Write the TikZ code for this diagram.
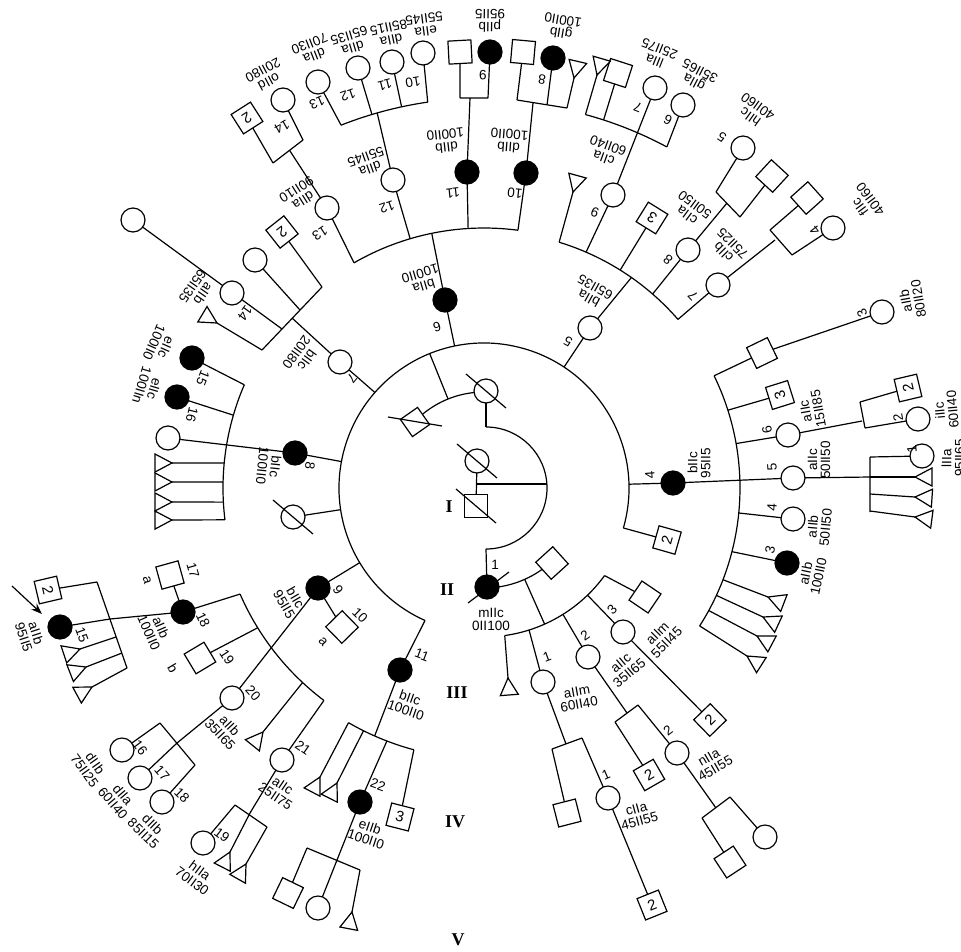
\documentclass[tikz,border=0pt]{standalone}
\usepackage{fontspec}
\setmainfont{Liberation Sans}
\newfontfamily\romfont{Liberation Serif}
\usetikzlibrary{calc,arrows.meta}
\pgfdeclarelayer{bg}
\pgfsetlayers{bg,main}
\tikzset{
  ln/.style={line width=1.2pt},
  pc/.style={circle,draw,fill=white,minimum size=24pt,inner sep=0pt,line width=1.2pt},
  pf/.style={pc,fill=black},
  ps/.style={rectangle,draw,fill=white,minimum size=23pt,inner sep=0pt,line width=1.2pt,font=\fontsize{15}{15}\selectfont},
  lab/.style={font=\fontsize{13.5}{13}\selectfont,inner sep=0pt,align=center},
  rom/.style={font=\romfont\bfseries\fontsize{18}{18}\selectfont},
}
\newcommand{\AP}[3]{\coordinate (#1) at ($(C)+(#2:#3pt)$);}
\newcommand{\Pc}[3]{\node[pc] (#1) at (#2,-#3) {};}
\newcommand{\Pf}[3]{\node[pf] (#1) at (#2,-#3) {};}
\newcommand{\Ps}[4]{\pgfmathsetmacro\rr{atan2(488-#3,#2-484)+90}\node[ps,rotate=\rr] (#1) at (#2,-#3) {#4};}
\newcommand{\Gl}[3]{\pgfmathsetmacro\rr{atan2(488-#2,#1-484)+90}\node[lab,rotate=\rr] at (#1,-#2) {#3};}
\newcommand{\Glr}[4]{\node[lab,rotate=#3] at (#1,-#2) {#4};}
\newcommand{\Tri}[2]{\draw[ln] #1 -- #2; \draw[ln,fill=white] let \p1=($#2-#1$), \n1={atan2(\y1,\x1)} in #2 -- ($#2+(\n1:17pt)+(\n1+90:9pt)$) -- ($#2+(\n1:17pt)+(\n1-90:9pt)$) -- cycle;}
\newcommand{\Sl}[1]{\draw[ln] ($(#1)+(-20,17)$) -- ($(#1)+(20,-17)$);}
\begin{document}
\begin{tikzpicture}[x=1pt,y=1pt]
\useasboundingbox (0,0) rectangle (961,-951);
\coordinate (C) at (484,-488);
% ---------- arc points ----------
\AP{m0}{-82}{149}\AP{m1}{-72.4}{149}\AP{m2}{-58}{149}\AP{m3}{-46}{149}\AP{m4}{-36}{149}
\AP{bR}{-16}{145}\AP{b4}{1.5}{145}\AP{b5}{56.5}{145}\AP{b6}{101.7}{145}\AP{b7}{138.8}{145}
\AP{b8}{169.5}{145}\AP{bX}{188.6}{145}\AP{b9}{211}{145}\AP{b11}{246}{145}
\AP{a4t}{26}{256}\AP{a4b}{17.7}{256}\AP{a4c}{10}{256}\AP{a4e}{-5.6}{256}\AP{a4f}{-14.4}{256}
\AP{a4g1}{-21}{256}\AP{a4g2}{-24.8}{256}\AP{a4g3}{-28.6}{256}\AP{a4g4}{-32.6}{256}
\AP{a5L}{73}{257}\AP{a5a}{66.6}{257}\AP{a5b}{58}{257}\AP{a5d}{55}{257}\AP{a5c}{49}{257}\AP{a5R}{41}{257}
\AP{a9L}{74.8}{387}\AP{a9a}{72}{387}\AP{a9R}{61.8}{387}
\AP{a6L}{120}{260}\AP{a6a}{106.5}{260}\AP{a6d}{101.6}{260}\AP{a6b}{93.5}{260}\AP{a6R}{82.5}{260}
\AP{a12L}{111.5}{390}\AP{a12a}{106.7}{390}\AP{a12d}{105.9}{390}\AP{a12b}{102.2}{390}\AP{a12R}{98.3}{390}
\AP{a8L}{156.7}{261}\AP{a8a}{163.8}{261}\AP{a8t1}{174.5}{261}\AP{a8t2}{178.7}{261}\AP{a8t3}{183.1}{261}\AP{a8t4}{187}{261}
\AP{a9bL}{203.5}{266}\AP{a9ba}{211.7}{266}\AP{a9bt}{227}{266}\AP{a9bR}{233}{266}
\AP{a11L}{240}{271}\AP{a11a}{243.6}{271}\AP{a11d}{246.2}{271}\AP{a11b}{249}{271}\AP{a11R}{255}{271}
% ---------- persons ----------
\Pc{gw}{477}{461}
\node[ps] (gh) at (476,-506) {};
\Pc{c2a}{486}{391}
\node[ps,minimum size=21pt,rotate=35] (d2) at (415,-422) {};
\Pf{f2}{487}{587}
\Ps{sq2}{552}{563}{}
% lower right branch
\Pc{m1c}{543}{682}\Pc{m2c}{588}{657}\Pc{m3c}{623}{632}\Ps{m4s}{645}{597}{}
\Ps{n1s}{567}{813}{}\Pc{n1c}{608}{798}\Ps{n1s2}{652}{905}{2}
\Ps{n2s}{649}{775}{2}\Pc{n2c}{677}{753}
\Ps{n3s}{730}{862}{}\Pc{n3c}{765}{837}
\Ps{m3s}{710}{720}{2}
% big arc children
\Ps{sR}{667}{540}{2}\Pf{f4}{673}{483}\Pc{c5}{590}{328}\Pf{f6}{445}{300}\Pc{c7}{340}{362}
\Pf{f8}{295}{453}\Pc{x8}{293}{517}\Pf{f9}{318}{588}\Pf{f11}{400}{670}
% bIIc-4 family
\Ps{sA}{762}{353}{}\Pc{cA}{882}{312}\Ps{s4b}{780}{395}{3}\Pc{c46}{788}{435}\Pc{c45}{793}{478}
\Pc{c44}{793}{519}\Pf{f43}{787}{563}
\Ps{s5a}{908}{388}{2}\Pc{c5b}{918}{419}\Pc{c5c}{922}{456}
% bIIa-5 family
\Pc{c9}{613}{195}\Ps{s53}{652}{218}{3}\Pc{c8}{688}{250}\Pc{c7b}{718}{285}
\Pc{g7}{655}{88}\Ps{g7s}{618}{73}{}\Pc{g6}{683}{105}
\Pc{h5}{743}{148}\Ps{h5s}{772}{176}{}
\Ps{s7a}{807}{198}{}\Pc{c7f}{833}{228}
% bIIa-6 family
\Pc{c13}{327}{208}\Pc{c12}{393}{180}\Pf{f11b}{467}{172}\Pf{f10}{526}{173}
\Pc{g13}{318}{82}\Pc{g12}{358}{68}\Pc{g11}{392}{62}\Pc{g10}{423}{53}
\Ps{g14s}{247}{118}{2}\Pc{g14}{283}{100}
\Ps{g9s}{460}{52}{}\Pf{g9}{490}{52}
\Ps{g8s}{523}{52}{}\Pf{g8}{553}{58}
% bIIc-7 family
\Ps{h2s}{282}{232}{2}\Pc{h2c}{255}{260}\Pc{h14}{232}{293}\Pc{h0}{133}{220}
% bIIc-8 family
\Pf{f15}{192}{358}\Pf{f16}{177}{397}\Pc{c8b}{168}{438}
% bIIc-9 family
\Ps{s10}{342}{627}{}\Pf{f18}{183}{612}\Ps{s19}{200}{658}{}\Pc{c20}{232}{698}\Pc{c21}{282}{760}\Ps{s17}{170}{575}{}
\Ps{k2s}{48}{590}{2}\Pf{k15}{60}{627}
\Pc{k16}{122}{750}\Pc{k17}{140}{778}\Pc{k18}{162}{802}
\Pc{k19}{203}{843}
% bIIc-11 family
\Pf{f22}{360}{802}\Ps{s3c}{400}{817}{3}
\Ps{j1}{288}{893}{}\Pc{j2}{318}{908}
% ---------- lines ----------
\begin{pgfonlayer}{bg}
\draw[ln] (gw.center) -- (gh.center);
\draw[ln] (477,-484) -- (547,-484);
\draw[ln] (486,-427) arc[start angle=90,end angle=-90,radius=61pt];
\draw[ln] (486,-427) -- (c2a.center);
\draw[ln] (486,-549) -- (f2.center);
\draw[ln] ($(C)+(95:96pt)$) arc[start angle=95,end angle=133,radius=96pt];
\draw[ln] ($(C)+(112:96pt)$) -- ($(C)+(112:145pt)$);
\draw[ln] ($(C)+(-86:100pt)$) arc[start angle=-86,end angle=-50,radius=100pt];
\draw[ln] ($(C)+(-66:100pt)$) -- ($(C)+(-66:149pt)$);
\draw[ln] (m0) arc[start angle=-82,end angle=-36,radius=149pt];
\draw[ln] (bR) arc[start angle=-16,end angle=246,radius=145pt];
% lower right
\draw[ln] (m1)--(m1c.center) (m2)--(m2c.center) (m3)--(m3c.center) (m4)--(m4s.center);
\draw[ln] (m1c.center)--(566,-744) (552,-749)--(582,-738) (552,-749)--(n1s.center) (582,-738)--(n1c.center) (n1c.center)--(n1s2.center);
\draw[ln] (m2c.center)--(627,-713) (615,-722)--(638,-705) (615,-722)--(n2s.center) (638,-705)--(n2c.center);
\draw[ln] (n2c.center)--(716,-808) (702,-818)--(730,-797) (702,-818)--(n3s.center) (730,-797)--(n3c.center);
\draw[ln] (m3c.center)--(m3s.center);
% big arc children
\draw[ln] (bR)--(sR.center) (b4)--(f4.center) (b5)--(c5.center) (b6)--(f6.center) (b7)--(c7.center)
  (b8)--(f8.center) (bX)--(x8.center) (b9)--(f9.center) (b11)--(f11.center);
% bIIc-4
\draw[ln] (a4t) arc[start angle=26,end angle=-32.6,radius=256pt];
\draw[ln] (a4t)--(sA.center) (sA.center)--(cA.center) (a4b)--(s4b.center) (a4c)--(c46.center)
  (f4.center)--(c45.center) (a4e)--(c44.center) (a4f)--(f43.center);
\draw[ln] (c46.center)--(862,-421) (860,-402)--(865,-428) (860,-402)--(s5a.center) (865,-428)--(c5b.center);
\draw[ln] (c45.center)--(870,-477) (870,-457)--(870,-512) (870,-457)--(c5c.center);
% bIIa-5
\draw[ln] (a5L) arc[start angle=73,end angle=41,radius=257pt];
\draw[ln] (a5a)--(c9.center) (a5b)--(s53.center) (c5.center)--(a5d) (a5c)--(c8.center) (a5R)--(c7b.center);
\draw[ln] (a9L) arc[start angle=74.8,end angle=61.8,radius=387pt];
\draw[ln] (c9.center)--(g7.center) (a9a)--(g7s.center) (a9R)--(g6.center);
\draw[ln] (c8.center)--(727,-203) (716,-192)--(740,-217) (716,-192)--(h5.center) (740,-217)--(h5s.center);
\draw[ln] (c7b.center)--(775,-240) (770,-230)--(792,-255) (770,-230)--(s7a.center) (792,-255)--(c7f.center);
% bIIa-6
\draw[ln] (a6L) arc[start angle=120,end angle=82.5,radius=260pt];
\draw[ln] (a6L)--(c13.center) (a6a)--(c12.center) (f6.center)--(a6d) (a6b)--(f11b.center) (a6R)--(f10.center);
\draw[ln] (a12L) arc[start angle=111.5,end angle=98.3,radius=390pt];
\draw[ln] (a12L)--(g13.center) (a12a)--(g12.center) (c12.center)--(a12d) (a12b)--(g11.center) (a12R)--(g10.center);
\draw[ln] (c13.center)--(290,-151) (273,-163)--(303,-140) (273,-163)--(g14s.center) (303,-140)--(g14.center);
\draw[ln] (f11b.center)--(470,-98) (460,-98)--(488,-98) (460,-98)--(g9s.center) (488,-98)--(g9.center);
\draw[ln] (f10.center)--(533,-103) (517,-100)--(567,-108) (517,-100)--(g8s.center) (547,-105)--(g8.center);
% bIIc-7
\draw[ln] (c7.center)--(292,-318) (262,-350)--(322,-287) (322,-287)--(h2s.center) (300,-310)--(h2c.center) (282,-329)--(h0.center);
% bIIc-8
\draw[ln] (a8L) arc[start angle=156.7,end angle=187,radius=261pt];
\draw[ln] (a8L)--(f15.center) (a8a)--(f16.center) (f8.center)--(c8b.center);
% bIIc-9
\draw[ln] (a9bL) arc[start angle=203.5,end angle=233,radius=266pt];
\draw[ln] (a9bL)--(f18.center) (a9ba)--(s19.center) (f9.center)--(c20.center) (a9bR)--(c21.center) (f9.center)--(s10.center) (s17.center)--(f18.center);
\draw[ln] (f18.center)--(110,-619) (97,-582)--(127,-668) (97,-582)--(k2s.center) (110,-619)--(k15.center);
\draw[ln] (c20.center)--(177,-743) (160,-723)--(195,-765) (160,-723)--(k16.center) (177,-743)--(k17.center) (195,-765)--(k18.center);
\draw[ln] (c21.center)--(250,-813) (235,-805)--(267,-827) (235,-805)--(k19.center);
% bIIc-11
\draw[ln] (a11L) arc[start angle=240,end angle=255,radius=271pt];
\draw[ln] (f11.center)--(a11d) (a11b)--(f22.center) (a11R)--(s3c.center);
\draw[ln] (f22.center)--(j2.center) (307,-848)--(360,-870) (307,-848)--(j1.center);
\end{pgfonlayer}
% ---------- slashes ----------
\Sl{gw}\Sl{gh}\Sl{c2a}\Sl{x8}
\draw[ln] (388,-417) -- (442,-426);
\draw[ln] ($(f2)+(-19,-16)$) -- ($(f2)+(22,15)$);
% ---------- triangles ----------
\Tri{(m0)}{(508,-678)}
\Tri{(870,-477)}{(915,-477)}\Tri{(870,-494)}{(915,-497)}\Tri{(870,-511)}{(915,-517)}
\Tri{(a4g1)}{(768,-597)}\Tri{(a4g2)}{(763,-617)}\Tri{(a4g3)}{(757,-636)}\Tri{(a4g4)}{(747,-656)}
\Tri{(a5L)}{(573,-192)}
\Tri{(a9L)}{(597,-75)}
\Tri{(567,-108)}{(574,-78)}
\Tri{(262,-350)}{(217,-323)}
\Tri{(a8t1)}{(172,-463)}\Tri{(a8t2)}{(172,-482)}\Tri{(a8t3)}{(172,-502)}\Tri{(a8t4)}{(172,-520)}
\Tri{(116,-637)}{(80,-649)}\Tri{(122,-653)}{(86,-667)}\Tri{(127,-668)}{(92,-687)}
\Tri{(a9bt)}{(263,-732)}
\Tri{(250,-813)}{(230,-852)}
\Tri{(267,-827)}{(246,-864)}
\Tri{(a11L)}{(320,-777)}\Tri{(a11a)}{(337,-783)}
\Tri{(360,-870)}{(352,-912)}
% arrow
\draw[ln,-{Stealth[length=11pt,width=8pt]}] (12,-586) -- (42,-614);
% ---------- roman numerals ----------
\node[rom] at (449,-507) {I};
\node[rom] at (447,-590) {II};
\node[rom] at (457,-693) {III};
\node[rom] at (455,-822) {IV};
\node[rom] at (458,-940) {V};
% ---------- labels ----------
\Glr{495}{565}{0}{1}
\Glr{491}{619}{0}{mIIc\\0II100}
\Gl{547}{657}{1}\Glr{578}{698}{10}{aIIm\\60II40}
\Gl{585}{635}{2}\Glr{625}{668}{40}{aIIc\\35II65}
\Gl{612}{610}{3}\Glr{662}{638}{45}{aIIm\\55II45}
\Gl{606}{775}{1}\Glr{638}{815}{15}{cIIa\\45II55}
\Gl{668}{730}{2}\Glr{712}{763}{30}{nIIa\\45II55}
% big arc children
\Gl{650}{475}{4}\Glr{699}{463}{90}{bIIc\\95II5}
\Gl{568}{342}{5}\Gl{592}{293}{bIIa\\65II35}
\Gl{437}{327}{6}\Gl{422}{280}{bIIa\\100II0}
\Gl{352}{378}{7}\Gl{302}{356}{bIIc\\20II80}
\Gl{310}{466}{8}\Gl{269}{466}{bIIc\\100II0}
\Gl{338}{590}{9}\Gl{290}{601}{bIIc\\95II5}
\Gl{360}{615}{10}\Gl{323}{642}{a}
\Gl{422}{655}{11}\Gl{408}{704}{bIIc\\100II0}
% bIIc-4 family
\Gl{862}{313}{3}\Glr{912}{300}{100}{aIIb\\80II20}
\Gl{767}{430}{6}\Glr{812}{410}{100}{aIIc\\15II85}
\Gl{898}{418}{2}\Glr{946}{410}{95}{iIIc\\60II40}
\Gl{772}{467}{5}\Glr{819}{460}{90}{aIIc\\50II50}
\Gl{912}{449}{1}\Glr{953}{458}{90}{lIIa\\95II65}
\Gl{772}{507}{4}\Glr{819}{527}{85}{aIIb\\50II50}
\Gl{770}{550}{3}\Glr{812}{575}{78}{aIIb\\100II0}
% bIIa-5 family
\Gl{595}{212}{9}\Gl{606}{152}{cIIa\\60II40}
\Gl{668}{260}{8}\Gl{691}{210}{cIIa\\50II50}
\Gl{693}{296}{7}\Gl{728}{248}{cIIb\\75II25}
\Gl{638}{107}{7}\Gl{657}{55}{lIIa\\25II75}
\Gl{668}{120}{6}\Gl{697}{77}{gIIa\\35II65}
\Gl{722}{137}{5}\Gl{754}{112}{hIIc\\40II60}
\Gl{815}{230}{4}\Gl{865}{203}{fIIc\\40II60}
% bIIa-6 family
\Gl{320}{233}{13}\Gl{300}{195}{dIIa\\90II10}
\Gl{387}{207}{12}\Gl{368}{163}{dIIa\\55II45}
\Gl{453}{193}{11}\Gl{446}{141}{dIIb\\100II0}
\Gl{515}{193}{10}\Gl{509}{141}{dIIb\\100II0}
\Gl{317}{103}{13}\Gl{312}{50}{dIIa\\70II30}
\Gl{348}{95}{12}\Gl{351}{42}{dIIa\\65II35}
\Gl{385}{85}{11}\Gl{390}{34}{dIIa\\85II15}
\Gl{413}{82}{10}\Gl{425}{25}{eIIa\\55II45}
\Gl{282}{127}{14}\Gl{266}{76}{oIId\\20II80}
\Gl{483}{75}{9}\Gl{490}{21}{pIIb\\95II5}
\Gl{542}{80}{8}\Gl{562}{27}{gIIb\\100II0}
% bIIc-7 family
\Gl{245}{313}{14}\Gl{198}{290}{aIIb\\65II35}
% bIIc-8 family
\Gl{203}{378}{15}\Gl{160}{345}{eIIc\\100II0}
\Gl{192}{415}{16}\Gl{148}{387}{eIIc\\100IIn}
% bIIc-9 family
\Gl{203}{620}{18}\Gl{155}{630}{aIIb\\100II0}
\Gl{193}{570}{17}\Gl{147}{580}{a}
\Gl{227}{657}{19}\Gl{173}{668}{b}
\Gl{253}{693}{20}\Gl{225}{730}{aIIb\\35II65}
\Gl{303}{748}{21}\Gl{279}{791}{aIIc\\25II75}
\Gl{82}{635}{15}\Gl{30}{635}{aIIb\\95II5}
\Gl{140}{748}{16}\Gl{90}{767}{dIIb\\75II25}
\Gl{162}{773}{17}\Gl{118}{799}{dIIa\\60II40}
\Gl{182}{795}{18}\Gl{148}{829}{dIIb\\85II15}
\Gl{222}{835}{19}\Gl{196}{876}{hIIa\\70II30}
% bIIc-11 family
\Gl{378}{785}{22}\Gl{368}{833}{eIIb\\100II0}
\end{tikzpicture}
\end{document}
